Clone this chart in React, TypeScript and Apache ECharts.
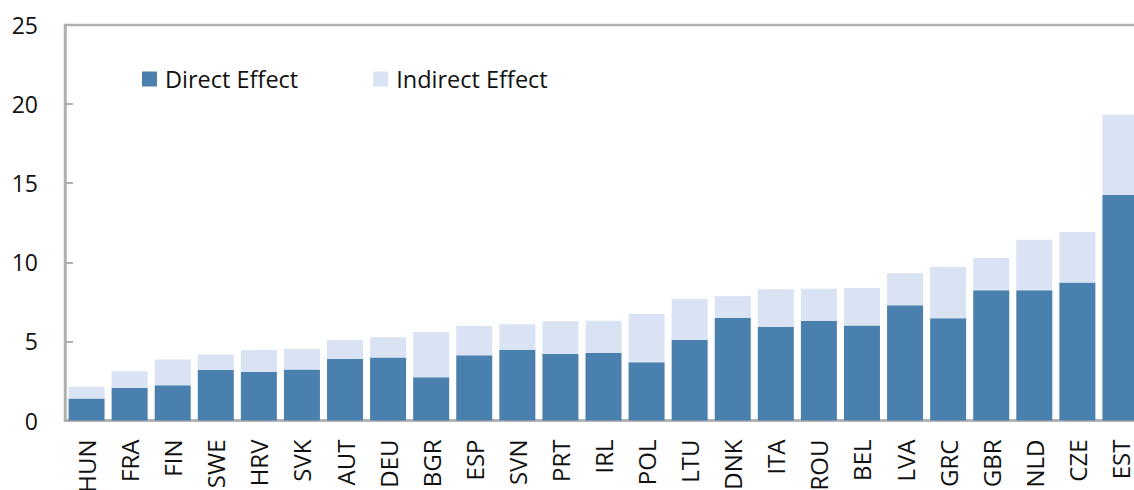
import React, { useEffect, useRef } from "react";
import * as echarts from "echarts";

const categories = ["HUN","FRA","FIN","SWE","HRV","SVK","AUT","DEU","BGR","ESP","SVN","PRT","IRL","POL","LTU","DNK","ITA","ROU","BEL","LVA","GRC","GBR","NLD","CZE","EST"];
const directEffect = [1.39,2.06,2.23,3.2,3.07,3.22,3.89,3.98,2.74,4.12,4.46,4.21,4.27,3.68,5.11,6.5,5.91,6.31,6.0,7.28,6.46,8.23,8.23,8.73,14.25];
const totalEffect = [2.13,3.11,3.85,4.17,4.46,4.52,5.09,5.26,5.6,5.98,6.08,6.27,6.31,6.73,7.68,7.85,8.3,8.33,8.38,9.3,9.7,10.27,11.43,11.91,19.32];
const indirectEffect = totalEffect.map((t, i) => Math.round((t - directEffect[i]) * 100) / 100);
const yTicks = { min: 0, max: 25, interval: 5 };

const FONT = "'Open Sans', 'Noto Sans', sans-serif";
const AXIS_GRAY = "#b0b0b0";

export default function App() {
  const ref = useRef<HTMLDivElement>(null);
  useEffect(() => {
    if (!ref.current) return;
    const chart = echarts.init(ref.current, undefined, { renderer: "svg" });
    chart.setOption({
      animation: false,
      textStyle: { fontFamily: FONT },
      legend: {
        left: 137,
        top: 62,
        padding: 5,
        itemWidth: 15,
        itemHeight: 15,
        itemGap: 75,
        icon: "rect",
        textStyle: { fontSize: 23.5, color: "#111", fontFamily: FONT, padding: [0, 0, 0, 3] },
        data: ["Direct Effect", "Indirect Effect"],
      },
      grid: {
        left: 65,
        top: 25,
        width: 1077,
        height: 395.5,
        containLabel: false,
        outerBoundsMode: "none",
        show: true,
        borderColor: AXIS_GRAY,
        borderWidth: 2.5,
      },
      xAxis: {
        type: "category",
        data: categories,
        axisLine: { show: true, lineStyle: { color: AXIS_GRAY, width: 2.5 } },
        axisTick: { show: false },
        axisLabel: { rotate: 90, fontSize: 24, color: "#111", margin: 19, fontFamily: FONT, interval: 0 },
      },
      yAxis: {
        type: "value",
        min: yTicks.min,
        max: yTicks.max,
        interval: yTicks.interval,
        splitLine: { show: false },
        axisLine: { show: true, lineStyle: { color: AXIS_GRAY, width: 2.5 } },
        axisTick: { show: true, inside: true, length: 8, lineStyle: { color: AXIS_GRAY, width: 2 } },
        axisLabel: { fontSize: 23, color: "#111", margin: 27, fontFamily: FONT },
      },
      series: [
        {
          name: "Direct Effect",
          type: "bar",
          stack: "total",
          data: directEffect,
          barWidth: 36,
          itemStyle: { color: "#4a80ad" },
        },
        {
          name: "Indirect Effect",
          type: "bar",
          stack: "total",
          data: indirectEffect,
          barWidth: 36,
          itemStyle: { color: "#dae3f3" },
        },
      ],
    });
    return () => chart.dispose();
  }, []);
  return (
    <div
      ref={ref}
      style={{ position: "absolute", left: 0, top: 0, width: 1134, height: 490, background: "#fff" }}
    />
  );
}
